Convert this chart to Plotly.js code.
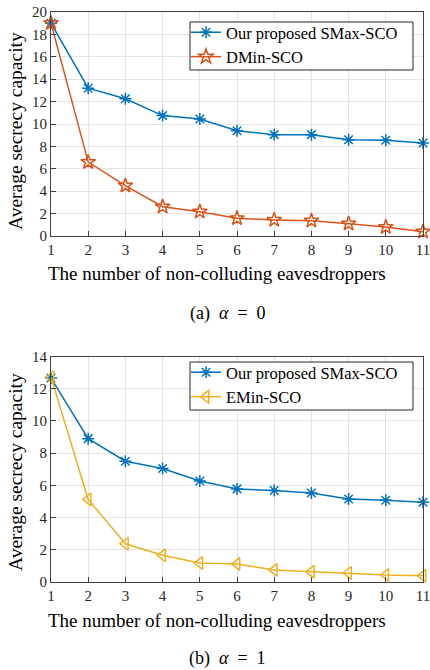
<!DOCTYPE html>
<html><head><meta charset="utf-8">
<script src="https://cdn.plot.ly/plotly-3.0.1.min.js"></script>
<style>html,body{margin:0;padding:0;background:#fff}#c{width:430px;height:670px}</style>
</head><body><div id="c"></div>
<script>
const eaves = [1,2,3,4,5,6,7,8,9,10,11];
const smaxA = [19.0,13.2,12.25,10.75,10.45,9.4,9.05,9.05,8.6,8.55,8.3];
const dminA = [19.0,6.6,4.5,2.62,2.17,1.58,1.43,1.37,1.1,0.8,0.38];
const smaxB = [12.66,8.9,7.5,7.05,6.27,5.78,5.68,5.52,5.15,5.08,4.95];
const eminB = [12.72,5.12,2.37,1.66,1.18,1.12,0.75,0.64,0.56,0.44,0.39];
const nameS = 'Our proposed SMax-SCO', nameD = 'DMin-SCO', nameE = 'EMin-SCO';
const xTitle = 'The number of non-colluding eavesdroppers';
const yTitle = 'Average secrecy capacity';
const capA = '(a)  <i>α</i>  =  0', capB = '(b)  <i>α</i>  =  1';

const W=430,H=670;
const FAM='Liberation Serif';
const font = {family:FAM, color:'#262626'};
const blue='#0072BD', red='#D95319', yel='#EDB120';
const px=v=>v/W, py=v=>1-v/H;

const traces = [
 {x:eaves,y:smaxA,name:nameS,xaxis:'x',yaxis:'y',mode:'lines+markers',cliponaxis:false,line:{color:blue,width:1.5},
  marker:{symbol:'asterisk-open',size:10,color:blue,line:{color:blue,width:1.5}},legend:'legend'},
 {x:eaves,y:dminA,name:nameD,xaxis:'x',yaxis:'y',mode:'lines+markers',cliponaxis:false,line:{color:red,width:1.5},
  marker:{symbol:'star-open',size:11,color:red,line:{color:red,width:1.5}},legend:'legend'},
 {x:eaves,y:smaxB,name:nameS,xaxis:'x2',yaxis:'y2',mode:'lines+markers',cliponaxis:false,line:{color:blue,width:1.5},
  marker:{symbol:'asterisk-open',size:10,color:blue,line:{color:blue,width:1.5}},legend:'legend2'},
 {x:eaves,y:eminB,name:nameE,xaxis:'x2',yaxis:'y2',mode:'lines+markers',cliponaxis:false,line:{color:yel,width:1.5},
  marker:{symbol:'triangle-left-open',size:11,color:yel,line:{color:yel,width:1.5}},legend:'legend2'}
];
const ax = {showgrid:true,gridcolor:'#e3e3e3',gridwidth:1,showline:true,linecolor:'#404040',linewidth:1,mirror:true,
  ticks:'inside',ticklen:5,tickcolor:'#404040',zeroline:false,automargin:false,ticklabeloverflow:'allow',
  tickfont:{family:FAM,size:15,color:'#262626'}};
const lg = y=>({x:px(186),y:py(y),xref:'paper',yref:'paper',xanchor:'left',yanchor:'top',bgcolor:'rgba(0,0,0,0)',
    borderwidth:0,font:{family:FAM,size:16.5,color:'#000'},tracegroupgap:0,itemwidth:30});
const box = (y0,y1)=>({type:'rect',xref:'paper',yref:'paper',x0:px(190),x1:px(413),y0:py(y1),y1:py(y0),
    fillcolor:'#fff',line:{color:'#262626',width:1},layer:'above'});
const ann=(t,x,y,s,a)=>({text:t,x:px(x),y:py(y),xref:'paper',yref:'paper',xanchor:'center',yanchor:'middle',
    textangle:a||0,showarrow:false,font:{family:FAM,size:s,color:'#000'}});
const L = {
  width:W,height:H,margin:{l:0,r:0,t:0,b:0},paper_bgcolor:'#fff',plot_bgcolor:'#fff',font:font,
  showlegend:true,
  xaxis:{...ax,range:[1,11],dtick:1,domain:[px(51),px(423)],anchor:'y'},
  yaxis:{...ax,range:[0,20],dtick:2,domain:[py(236),py(12)],anchor:'x'},
  xaxis2:{...ax,range:[1,11],dtick:1,domain:[px(51),px(423)],anchor:'y2'},
  yaxis2:{...ax,range:[0,14],dtick:2,domain:[py(582),py(356.5)],anchor:'x2'},
  legend:lg(15),
  legend2:lg(355),
  shapes:[box(22,70),box(362,410)],
  annotations:[
    ann(yTitle,16,131,19.5,-90), ann(yTitle,16,472,19.5,-90),
    ann(xTitle,217,273,19), ann(xTitle,217,620,19),
    ann(capA,228,313,18), ann(capB,228,658,18)
  ]
};
Plotly.newPlot('c',traces,L,{displayModeBar:false,staticPlot:true});
</script></body></html>
